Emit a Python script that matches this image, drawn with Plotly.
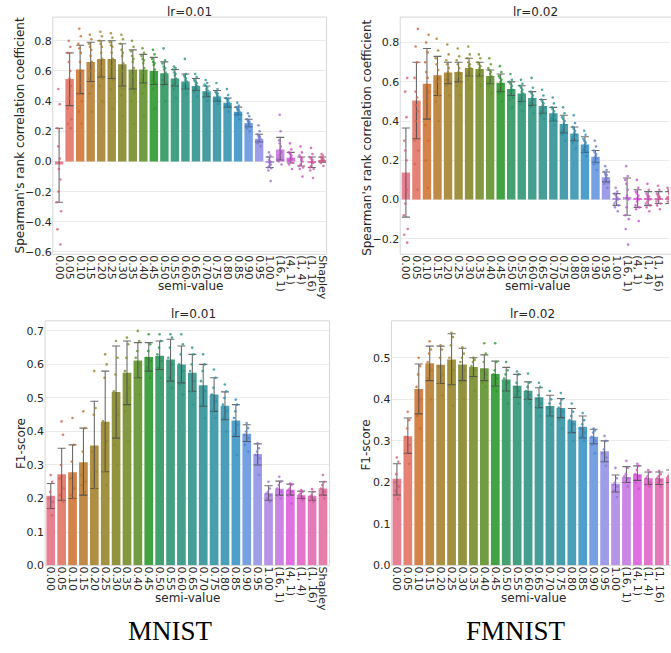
import colorsys
import math
import plotly.graph_objects as go

# ---------------- data ----------------
CATEGORIES = ["0.00", "0.05", "0.10", "0.15", "0.20", "0.25", "0.30", "0.35", "0.40", "0.45",
              "0.50", "0.55", "0.60", "0.65", "0.70", "0.75", "0.80", "0.85", "0.90", "0.95",
              "1.00", "(16, 1)", "(4, 1)", "(1, 4)", "(1, 16)", "Shapley"]

# top-left: MNIST, lr=0.01, Spearman
TL_MEAN = [-0.02, 0.546, 0.61, 0.66, 0.68, 0.68, 0.645, 0.61, 0.61, 0.60, 0.585, 0.55, 0.53, 0.50,
           0.465, 0.43, 0.39, 0.33, 0.255, 0.15, -0.01, 0.08, 0.025, 0.0, -0.01, 0.01]
TL_LO = [-0.27, 0.37, 0.45, 0.53, 0.56, 0.55, 0.50, 0.48, 0.52, 0.51, 0.51, 0.50, 0.48, 0.47,
         0.43, 0.40, 0.36, 0.31, 0.23, 0.13, -0.04, 0.01, -0.01, -0.03, -0.04, -0.005]
TL_HI = [0.22, 0.72, 0.77, 0.79, 0.80, 0.80, 0.78, 0.74, 0.71, 0.69, 0.66, 0.61, 0.58, 0.55,
         0.50, 0.47, 0.42, 0.36, 0.28, 0.18, 0.03, 0.16, 0.06, 0.03, 0.03, 0.03]
TL_PTS = [
    [-0.55, -0.45, -0.33, -0.27, -0.20, -0.12, -0.05, 0.02, 0.10, 0.22, 0.38, 0.48],
    [0.22, 0.25, 0.28, 0.35, 0.42, 0.50, 0.55, 0.60, 0.66, 0.72, 0.76, 0.80],
    [0.25, 0.33, 0.40, 0.45, 0.52, 0.60, 0.66, 0.72, 0.75, 0.78, 0.83, 0.88],
    [0.33, 0.45, 0.50, 0.55, 0.60, 0.66, 0.70, 0.74, 0.76, 0.78, 0.81, 0.84],
    [0.40, 0.50, 0.55, 0.58, 0.63, 0.68, 0.72, 0.76, 0.78, 0.80, 0.83, 0.86],
    [0.35, 0.48, 0.54, 0.57, 0.63, 0.68, 0.72, 0.76, 0.77, 0.79, 0.82, 0.85],
    [0.30, 0.44, 0.48, 0.52, 0.60, 0.65, 0.70, 0.72, 0.74, 0.78, 0.81, 0.84],
    [0.25, 0.40, 0.46, 0.50, 0.57, 0.62, 0.66, 0.68, 0.70, 0.73, 0.76, 0.80],
    [0.30, 0.45, 0.50, 0.54, 0.59, 0.62, 0.65, 0.67, 0.68, 0.70, 0.72, 0.75],
    [0.35, 0.48, 0.52, 0.54, 0.58, 0.61, 0.64, 0.65, 0.66, 0.68, 0.71, 0.74],
    [0.40, 0.50, 0.52, 0.54, 0.57, 0.59, 0.61, 0.62, 0.63, 0.65, 0.67, 0.75],
    [0.42, 0.48, 0.50, 0.51, 0.53, 0.55, 0.57, 0.58, 0.59, 0.61, 0.62, 0.63],
    [0.45, 0.48, 0.49, 0.50, 0.52, 0.53, 0.54, 0.55, 0.56, 0.57, 0.58, 0.68],
    [0.43, 0.46, 0.47, 0.48, 0.49, 0.50, 0.51, 0.52, 0.53, 0.54, 0.56, 0.58],
    [0.40, 0.43, 0.44, 0.45, 0.46, 0.47, 0.48, 0.49, 0.50, 0.51, 0.52, 0.54],
    [0.38, 0.40, 0.41, 0.415, 0.42, 0.43, 0.44, 0.45, 0.455, 0.46, 0.48, 0.52],
    [0.33, 0.36, 0.37, 0.375, 0.38, 0.39, 0.40, 0.41, 0.415, 0.42, 0.44, 0.48],
    [0.28, 0.30, 0.31, 0.315, 0.32, 0.33, 0.34, 0.345, 0.35, 0.36, 0.37, 0.39],
    [0.20, 0.22, 0.23, 0.235, 0.24, 0.25, 0.26, 0.265, 0.27, 0.28, 0.30, 0.32],
    [0.10, 0.12, 0.13, 0.135, 0.14, 0.15, 0.16, 0.165, 0.17, 0.18, 0.20, 0.24],
    [-0.13, -0.06, -0.045, -0.04, -0.03, -0.02, -0.01, 0.0, 0.01, 0.03, 0.04, 0.06],
    [-0.02, 0.0, 0.01, 0.02, 0.04, 0.06, 0.08, 0.10, 0.12, 0.14, 0.20, 0.31],
    [-0.05, -0.02, -0.01, 0.0, 0.01, 0.02, 0.03, 0.04, 0.05, 0.06, 0.08, 0.12],
    [-0.10, -0.05, -0.04, -0.03, -0.02, 0.0, 0.01, 0.02, 0.03, 0.04, 0.06, 0.10],
    [-0.11, -0.06, -0.05, -0.04, -0.03, -0.01, 0.0, 0.01, 0.02, 0.03, 0.05, 0.09],
    [-0.03, -0.01, 0.0, 0.003, 0.005, 0.01, 0.015, 0.02, 0.025, 0.03, 0.04, 0.05],
]

# top-right: FMNIST, lr=0.02, Spearman
TR_MEAN = [0.138, 0.505, 0.59, 0.634, 0.647, 0.65, 0.67, 0.665, 0.63, 0.595, 0.563, 0.54, 0.518,
           0.477, 0.44, 0.385, 0.336, 0.28, 0.218, 0.114, 0.005, 0.013, 0.006, 0.008, 0.008, 0.008]
TR_LO = [-0.09, 0.31, 0.41, 0.53, 0.59, 0.60, 0.63, 0.63, 0.59, 0.55, 0.53, 0.50, 0.48,
         0.44, 0.40, 0.34, 0.30, 0.24, 0.19, 0.09, -0.03, -0.08, -0.04, -0.03, -0.02, -0.02]
TR_HI = [0.365, 0.70, 0.77, 0.73, 0.70, 0.70, 0.72, 0.70, 0.66, 0.64, 0.60, 0.58, 0.55,
         0.51, 0.47, 0.43, 0.37, 0.32, 0.25, 0.14, 0.03, 0.11, 0.05, 0.04, 0.04, 0.04]
TR_PTS = [
    [-0.22, -0.18, -0.15, -0.08, -0.02, 0.05, 0.12, 0.20, 0.25, 0.30, 0.42, 0.55, 0.62],
    [0.05, 0.18, 0.25, 0.30, 0.40, 0.45, 0.48, 0.52, 0.55, 0.62, 0.70, 0.78, 0.87],
    [0.06, 0.20, 0.30, 0.38, 0.50, 0.55, 0.58, 0.62, 0.65, 0.70, 0.75, 0.80, 0.84],
    [0.40, 0.50, 0.53, 0.55, 0.60, 0.62, 0.63, 0.66, 0.69, 0.72, 0.76, 0.82],
    [0.53, 0.58, 0.60, 0.61, 0.63, 0.64, 0.65, 0.67, 0.69, 0.71, 0.74, 0.79],
    [0.53, 0.58, 0.60, 0.61, 0.63, 0.64, 0.65, 0.67, 0.69, 0.71, 0.73, 0.77],
    [0.57, 0.61, 0.63, 0.64, 0.66, 0.67, 0.68, 0.69, 0.70, 0.72, 0.74, 0.78],
    [0.58, 0.62, 0.63, 0.64, 0.65, 0.66, 0.67, 0.68, 0.69, 0.70, 0.72, 0.74],
    [0.54, 0.58, 0.59, 0.60, 0.62, 0.63, 0.64, 0.65, 0.66, 0.67, 0.69, 0.72],
    [0.50, 0.54, 0.55, 0.56, 0.58, 0.59, 0.60, 0.61, 0.62, 0.63, 0.65, 0.68],
    [0.47, 0.51, 0.52, 0.53, 0.55, 0.56, 0.57, 0.58, 0.59, 0.60, 0.61, 0.64],
    [0.45, 0.49, 0.50, 0.51, 0.53, 0.54, 0.55, 0.56, 0.57, 0.58, 0.59, 0.61],
    [0.44, 0.47, 0.48, 0.49, 0.50, 0.51, 0.52, 0.53, 0.54, 0.55, 0.57, 0.62],
    [0.41, 0.43, 0.44, 0.45, 0.46, 0.47, 0.48, 0.49, 0.50, 0.51, 0.53, 0.56],
    [0.38, 0.40, 0.405, 0.41, 0.42, 0.43, 0.44, 0.45, 0.46, 0.47, 0.49, 0.52],
    [0.30, 0.33, 0.34, 0.35, 0.37, 0.38, 0.39, 0.40, 0.41, 0.42, 0.44, 0.47],
    [0.26, 0.29, 0.30, 0.31, 0.32, 0.33, 0.34, 0.35, 0.36, 0.37, 0.39, 0.43],
    [0.22, 0.24, 0.245, 0.25, 0.26, 0.27, 0.28, 0.29, 0.30, 0.31, 0.33, 0.35],
    [0.15, 0.18, 0.185, 0.19, 0.20, 0.21, 0.22, 0.23, 0.24, 0.25, 0.27, 0.30],
    [0.06, 0.08, 0.085, 0.09, 0.10, 0.11, 0.12, 0.125, 0.13, 0.14, 0.15, 0.17],
    [-0.06, -0.04, -0.03, -0.02, -0.01, 0.0, 0.005, 0.01, 0.02, 0.03, 0.04, 0.06],
    [-0.23, -0.15, -0.10, -0.08, -0.04, 0.0, 0.02, 0.05, 0.08, 0.10, 0.12, 0.17],
    [-0.11, -0.05, -0.04, -0.03, -0.01, 0.0, 0.01, 0.02, 0.03, 0.04, 0.06, 0.10],
    [-0.06, -0.04, -0.03, -0.02, -0.01, 0.0, 0.01, 0.015, 0.02, 0.03, 0.05, 0.08],
    [-0.05, -0.03, -0.02, -0.01, 0.0, 0.005, 0.01, 0.015, 0.02, 0.03, 0.05, 0.07],
    [-0.03, -0.01, 0.0, 0.01, 0.01, 0.02, 0.03, 0.04, 0.05, 0.06],
]

# bottom-left: MNIST, lr=0.01, F1
BL_MEAN = [0.208, 0.272, 0.278, 0.308, 0.358, 0.429, 0.518, 0.575, 0.612, 0.622, 0.626, 0.615, 0.60,
           0.575, 0.538, 0.51, 0.477, 0.433, 0.393, 0.333, 0.216, 0.229, 0.226, 0.21, 0.208, 0.23]
BL_LO = [0.17, 0.195, 0.20, 0.21, 0.23, 0.28, 0.38, 0.48, 0.56, 0.58, 0.585, 0.55, 0.545,
         0.52, 0.475, 0.46, 0.435, 0.385, 0.37, 0.30, 0.195, 0.21, 0.21, 0.20, 0.195, 0.21]
BL_HI = [0.245, 0.35, 0.36, 0.41, 0.49, 0.58, 0.655, 0.67, 0.665, 0.665, 0.67, 0.675, 0.655,
         0.63, 0.60, 0.56, 0.518, 0.48, 0.42, 0.363, 0.238, 0.252, 0.243, 0.222, 0.22, 0.25]
BL_PTS = [
    [0.15, 0.17, 0.19, 0.20, 0.22, 0.25, 0.27],
    [0.19, 0.21, 0.23, 0.26, 0.30, 0.39, 0.43],
    [0.20, 0.21, 0.23, 0.26, 0.31, 0.36, 0.44],
    [0.22, 0.24, 0.25, 0.27, 0.34, 0.41, 0.46],
    [0.23, 0.25, 0.28, 0.34, 0.45, 0.47, 0.58],
    [0.24, 0.28, 0.37, 0.43, 0.56, 0.60, 0.63],
    [0.30, 0.36, 0.45, 0.52, 0.57, 0.62, 0.67],
    [0.37, 0.46, 0.53, 0.58, 0.62, 0.66, 0.68],
    [0.51, 0.56, 0.60, 0.62, 0.64, 0.67, 0.70],
    [0.56, 0.59, 0.61, 0.62, 0.64, 0.66, 0.69],
    [0.56, 0.59, 0.61, 0.63, 0.65, 0.67, 0.69],
    [0.53, 0.56, 0.60, 0.62, 0.65, 0.68, 0.69],
    [0.51, 0.54, 0.58, 0.60, 0.63, 0.66, 0.69],
    [0.48, 0.52, 0.55, 0.58, 0.60, 0.63, 0.65],
    [0.44, 0.48, 0.52, 0.55, 0.58, 0.60, 0.63],
    [0.44, 0.46, 0.49, 0.51, 0.53, 0.56, 0.585],
    [0.40, 0.44, 0.46, 0.48, 0.50, 0.52, 0.54],
    [0.33, 0.39, 0.42, 0.44, 0.46, 0.48, 0.495],
    [0.34, 0.36, 0.38, 0.39, 0.40, 0.41, 0.425],
    [0.27, 0.30, 0.32, 0.33, 0.34, 0.35, 0.365],
    [0.19, 0.20, 0.21, 0.215, 0.22, 0.23, 0.25],
    [0.20, 0.21, 0.22, 0.23, 0.24, 0.25, 0.265],
    [0.185, 0.21, 0.22, 0.225, 0.23, 0.24, 0.245],
    [0.195, 0.20, 0.205, 0.21, 0.215, 0.22, 0.225],
    [0.19, 0.195, 0.20, 0.205, 0.21, 0.22, 0.228],
    [0.20, 0.21, 0.22, 0.23, 0.24, 0.25, 0.27],
]

# bottom-right: FMNIST, lr=0.02, F1
BR_MEAN = [0.209, 0.311, 0.425, 0.487, 0.483, 0.496, 0.484, 0.478, 0.475, 0.461, 0.448, 0.433, 0.421,
           0.405, 0.384, 0.379, 0.349, 0.334, 0.31, 0.275, 0.197, 0.213, 0.22, 0.21, 0.21, 0.213]
BR_LO = [0.17, 0.27, 0.365, 0.445, 0.438, 0.435, 0.445, 0.455, 0.445, 0.432, 0.42, 0.405, 0.40,
         0.38, 0.36, 0.356, 0.32, 0.307, 0.293, 0.25, 0.177, 0.20, 0.205, 0.195, 0.195, 0.20]
BR_HI = [0.245, 0.355, 0.485, 0.528, 0.528, 0.558, 0.523, 0.50, 0.507, 0.492, 0.477, 0.46, 0.442,
         0.428, 0.41, 0.402, 0.378, 0.36, 0.328, 0.30, 0.218, 0.238, 0.24, 0.225, 0.225, 0.23]
BR_PTS = [
    [0.16, 0.18, 0.19, 0.20, 0.22, 0.25, 0.26],
    [0.245, 0.27, 0.29, 0.31, 0.33, 0.35, 0.37],
    [0.33, 0.36, 0.40, 0.43, 0.46, 0.48, 0.50],
    [0.40, 0.45, 0.47, 0.49, 0.51, 0.52, 0.54],
    [0.41, 0.44, 0.46, 0.48, 0.50, 0.52, 0.53],
    [0.385, 0.43, 0.47, 0.50, 0.53, 0.55, 0.56],
    [0.40, 0.44, 0.47, 0.49, 0.50, 0.51, 0.525],
    [0.42, 0.45, 0.47, 0.48, 0.49, 0.495, 0.50],
    [0.43, 0.44, 0.46, 0.47, 0.49, 0.51, 0.535],
    [0.42, 0.43, 0.45, 0.46, 0.47, 0.49, 0.535],
    [0.39, 0.42, 0.44, 0.45, 0.46, 0.47, 0.49],
    [0.39, 0.41, 0.42, 0.43, 0.44, 0.46, 0.467],
    [0.39, 0.40, 0.41, 0.42, 0.43, 0.44, 0.462],
    [0.36, 0.38, 0.39, 0.40, 0.41, 0.43, 0.44],
    [0.34, 0.36, 0.37, 0.38, 0.39, 0.40, 0.42],
    [0.33, 0.35, 0.37, 0.38, 0.39, 0.40, 0.415],
    [0.30, 0.32, 0.34, 0.35, 0.36, 0.37, 0.39],
    [0.30, 0.31, 0.32, 0.33, 0.34, 0.35, 0.367],
    [0.27, 0.29, 0.30, 0.31, 0.32, 0.325, 0.33],
    [0.24, 0.25, 0.26, 0.27, 0.28, 0.30, 0.312],
    [0.165, 0.18, 0.19, 0.195, 0.20, 0.21, 0.235],
    [0.19, 0.20, 0.21, 0.215, 0.22, 0.235, 0.252],
    [0.185, 0.20, 0.215, 0.22, 0.23, 0.24, 0.245],
    [0.19, 0.195, 0.20, 0.21, 0.215, 0.225, 0.23],
    [0.19, 0.20, 0.205, 0.21, 0.215, 0.22, 0.228],
    [0.20, 0.205, 0.21, 0.215, 0.22, 0.225, 0.232],
]

PANEL_TITLES = ["lr=0.01", "lr=0.02", "lr=0.01", "lr=0.02"]
Y_TITLES = ["Spearman's rank correlation coefficient", "Spearman's rank correlation coefficient",
            "F1-score", "F1-score"]
X_TITLE = "semi-value"
CAPTIONS = ["MNIST", "FMNIST"]

# ---------------- husl palette (seaborn style) ----------------
_M = [[3.240969941904521, -1.537383177570093, -0.498610760293],
      [-0.96924363628087, 1.87596750150772, 0.041555057407175],
      [0.055630079696993, -0.20397695888897, 1.056971514242878]]
_REF_U, _REF_V = 0.19783000664283, 0.46831999493879
_KAPPA, _EPS = 903.2962962, 0.0088564516


def _bounds(L):
    sub1 = ((L + 16) ** 3) / 1560896
    sub2 = sub1 if sub1 > _EPS else L / _KAPPA
    out = []
    for m1, m2, m3 in _M:
        for t in (0, 1):
            top1 = (284517 * m1 - 94839 * m3) * sub2
            top2 = (838422 * m3 + 769860 * m2 + 731718 * m1) * L * sub2 - 769860 * t * L
            bottom = (632260 * m3 - 126452 * m2) * sub2 + 126452 * t
            out.append((top1 / bottom, top2 / bottom))
    return out


def _max_chroma(L, H):
    hrad = math.radians(H)
    best = float("inf")
    for m, b in _bounds(L):
        length = b / (math.sin(hrad) - m * math.cos(hrad))
        if length >= 0:
            best = min(best, length)
    return best


def husl_to_rgb(H, S, L):
    C = _max_chroma(L, H) / 100 * S
    hrad = math.radians(H)
    U, V = math.cos(hrad) * C, math.sin(hrad) * C
    Y = ((L + 16) / 116) ** 3 if L > 8 else L / _KAPPA
    vu = U / (13 * L) + _REF_U
    vv = V / (13 * L) + _REF_V
    X = 0 - (9 * Y * vu) / ((vu - 4) * vv - vu * vv)
    Z = (9 * Y - 15 * vv * Y - vv * X) / (3 * vv)
    rgb = []
    for row in _M:
        c = row[0] * X + row[1] * Y + row[2] * Z
        c = 12.92 * c if c <= 0.0031308 else 1.055 * c ** (1 / 2.4) - 0.055
        rgb.append(min(max(c, 0), 1))
    return rgb


def husl_palette(n, h=0.01, s=0.9, l=0.65):
    cols = []
    for i in range(n):
        hue = ((i / n) + h) % 1 * 359
        cols.append(husl_to_rgb(hue, s * 99, l * 99))
    return cols


def desat(rgb, prop):
    hh, ll, ss = colorsys.rgb_to_hls(*rgb)
    return colorsys.hls_to_rgb(hh, ll, ss * prop)


def darken(rgb, f):
    return [c * f for c in rgb]


def css(rgb):
    return "rgb(%d,%d,%d)" % tuple(int(round(c * 255)) for c in rgb)


pal = husl_palette(len(CATEGORIES))
BAR_COLORS = [css(desat(c, 0.75)) for c in pal]
PT_COLORS = [css(darken(c, 0.85)) for c in pal]

# ---------------- layout geometry ----------------
W, H = 671, 653


def px(x):
    return x / W


def py(y):
    return 1 - y / H


panels = [
    dict(mean=TL_MEAN, lo=TL_LO, hi=TL_HI, pts=TL_PTS,
         xd=[px(52), px(327)], yd=[py(257), py(17.3)], xr=[-0.6, 25.4], yr=[-0.615, 0.957], dt=0.2),
    dict(mean=TR_MEAN, lo=TR_LO, hi=TR_HI, pts=TR_PTS,
         xd=[px(401), 1.0], yd=[py(257), py(17.3)], xr=[-0.54, 24.98], yr=[-0.279, 0.93], dt=0.2),
    dict(mean=BL_MEAN, lo=BL_LO, hi=BL_HI, pts=BL_PTS,
         xd=[px(44.3), px(330)], yd=[py(571.7), py(324.3)], xr=[-0.52, 25.6], yr=[0, 0.73], dt=0.1),
    dict(mean=BR_MEAN, lo=BR_LO, hi=BR_HI, pts=BR_PTS,
         xd=[px(392.3), 1.0], yd=[py(571.7), py(324.3)], xr=[-0.49, 24.89], yr=[0, 0.589], dt=0.1),
]

TEXT = "#262626"
FONT = "DejaVu Sans"

fig = go.Figure()
layout = dict(width=W, height=H, margin=dict(l=0, r=0, t=0, b=0),
              paper_bgcolor="white", plot_bgcolor="white", showlegend=False,
              bargap=0.2, boxmode="overlay", boxgap=0.3, shapes=[], annotations=[])

for i, p in enumerate(panels):
    sfx = "" if i == 0 else str(i + 1)
    xa, ya = "x" + sfx, "y" + sfx
    fig.add_trace(go.Bar(
        x=CATEGORIES, y=p["mean"], xaxis=xa, yaxis=ya,
        marker=dict(color=BAR_COLORS, line=dict(width=0)),
        error_y=dict(type="data", symmetric=False,
                     array=[h - m for h, m in zip(p["hi"], p["mean"])],
                     arrayminus=[m - l for m, l in zip(p["mean"], p["lo"])],
                     color="rgba(70,70,70,0.8)", thickness=1.1, width=4),
        hoverinfo="skip"))
    for j, cat in enumerate(CATEGORIES):
        fig.add_trace(go.Box(
            x=[cat] * len(p["pts"][j]), y=p["pts"][j], xaxis=xa, yaxis=ya,
            boxpoints="all", jitter=1.0, pointpos=0,
            fillcolor="rgba(0,0,0,0)", line=dict(width=0, color="rgba(0,0,0,0)"),
            marker=dict(color=PT_COLORS[j], size=2.6, opacity=0.8, line=dict(width=0)),
            hoverinfo="skip"))
    layout["xaxis" + sfx] = dict(
        domain=p["xd"], anchor=ya, type="category", range=p["xr"],
        tickmode="array", tickvals=CATEGORIES, ticktext=CATEGORIES, tickangle=90,
        tickfont=dict(family=FONT, size=11, color=TEXT), showgrid=False, zeroline=False,
        showline=False, ticks="", fixedrange=True)
    layout["yaxis" + sfx] = dict(
        domain=p["yd"], anchor=xa, range=p["yr"], dtick=p["dt"], tick0=0, tickformat=".1f",
        tickfont=dict(family=FONT, size=11, color=TEXT), showgrid=True, gridcolor="#ebebeb",
        gridwidth=1, zeroline=False, showline=False, ticks="", fixedrange=True)
    layout["shapes"].append(dict(
        type="rect", xref=xa + " domain", yref=ya + " domain",
        x0=0, x1=1 if i % 2 == 0 else 1.05, y0=0, y1=1,
        line=dict(color="#d6d6d6", width=1), fillcolor="rgba(0,0,0,0)", layer="above"))

# titles & labels (pixel positions)
title_pos = [(189, 12), (537, 12), (193, 317), (534, 317)]
ytitle_pos = [(19, 137), (367, 139), (20, 448), (367, 450)]
xtitle_pos = [(190, 289), (539, 289), (187, 604), (535, 604)]
for i in range(4):
    tx, ty = title_pos[i]
    layout["annotations"].append(dict(text=PANEL_TITLES[i], x=px(tx), y=py(ty), xref="paper", yref="paper",
                                      showarrow=False, xanchor="center", yanchor="middle",
                                      font=dict(family=FONT, size=12, color=TEXT)))
    ax_, ay_ = ytitle_pos[i]
    layout["annotations"].append(dict(text=Y_TITLES[i], x=px(ax_), y=py(ay_), xref="paper", yref="paper",
                                      showarrow=False, xanchor="center", yanchor="middle", textangle=-90,
                                      font=dict(family=FONT, size=12, color=TEXT)))
    bx, by = xtitle_pos[i]
    layout["annotations"].append(dict(text=X_TITLE, x=px(bx), y=py(by), xref="paper", yref="paper",
                                      showarrow=False, xanchor="center", yanchor="middle",
                                      font=dict(family=FONT, size=12, color=TEXT)))
for cap, cx in zip(CAPTIONS, [170, 517]):
    layout["annotations"].append(dict(text=cap, x=px(cx), y=py(638), xref="paper", yref="paper",
                                      showarrow=False, xanchor="center", yanchor="middle",
                                      font=dict(family="Liberation Serif", size=27, color="black")))

fig.update_layout(**layout)
fig.write_html("out.html")
